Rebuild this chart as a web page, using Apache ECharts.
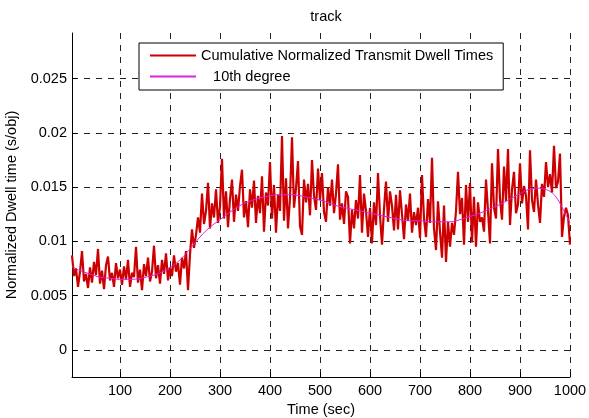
<!DOCTYPE html>
<html>
<head>
<meta charset="utf-8">
<script src="https://cdn.jsdelivr.net/npm/echarts@6/dist/echarts.min.js"></script>
<style>
  html, body { margin: 0; padding: 0; background: #fff; }
  #main { width: 589px; height: 418px; }
</style>
</head>
<body>
<div id="main"></div>
<script>
// sampled every 4 sec, from 4 to 1000
var sampleStep = 4;
var dwell = [
  0.0087, 0.0068, 0.0075, 0.0058, 0.0072, 0.0091, 0.0063, 0.0070, 0.0057, 0.0076,
  0.0062, 0.0081, 0.0069, 0.0093, 0.0061, 0.0073, 0.0056, 0.0078, 0.0086, 0.0064,
  0.0071, 0.0058, 0.0080, 0.0066, 0.0074,
  0.0060, 0.0077, 0.0065, 0.0083, 0.0058, 0.0071, 0.0067, 0.0095, 0.0062, 0.0074,
  0.0055, 0.0079, 0.0068, 0.0085, 0.0063, 0.0072, 0.0096, 0.0066, 0.0078, 0.0061,
  0.0083, 0.0070, 0.0089, 0.0064, 0.0076,
  0.0068, 0.0087, 0.0072, 0.0080, 0.0060, 0.0085, 0.0075, 0.0091, 0.0055, 0.0088,
  0.0111, 0.0094, 0.0106, 0.0122, 0.0108, 0.0144, 0.0116, 0.0128, 0.0154, 0.0112,
  0.0135, 0.0122, 0.0148, 0.0117, 0.0132,
  0.0176, 0.0121, 0.0146, 0.0113, 0.0139, 0.0157, 0.0118, 0.0143, 0.0128, 0.0151,
  0.0166, 0.0122, 0.0137, 0.0113, 0.0148, 0.0131, 0.0156, 0.0117, 0.0142, 0.0126,
  0.0160, 0.0109, 0.0145, 0.0133, 0.0173,
  0.0121, 0.0152, 0.0108, 0.0143, 0.0128, 0.0197, 0.0119, 0.0158, 0.0112, 0.0140,
  0.0196, 0.0131, 0.0149, 0.0174, 0.0114, 0.0106, 0.0157, 0.0136, 0.0153, 0.0124,
  0.0175, 0.0142, 0.0129, 0.0167, 0.0138,
  0.0163, 0.0127, 0.0118, 0.0150, 0.0133, 0.0157, 0.0126, 0.0144, 0.0171, 0.0120,
  0.0135, 0.0116, 0.0146, 0.0141, 0.0098, 0.0129, 0.0112, 0.0138, 0.0121, 0.0161,
  0.0108, 0.0144, 0.0128, 0.0104, 0.0131,
  0.0098, 0.0136, 0.0115, 0.0163, 0.0124, 0.0097, 0.0130, 0.0155, 0.0118, 0.0146,
  0.0133, 0.0110, 0.0143, 0.0111, 0.0147, 0.0125, 0.0102, 0.0134, 0.0119, 0.0144,
  0.0108, 0.0127, 0.0115, 0.0131, 0.0103,
  0.0161, 0.0121, 0.0104, 0.0139, 0.0117, 0.0177, 0.0112, 0.0092, 0.0137, 0.0109,
  0.0085, 0.0133, 0.0081, 0.0118, 0.0095, 0.0117, 0.0106, 0.0128, 0.0164, 0.0125,
  0.0140, 0.0097, 0.0152, 0.0118, 0.0154,
  0.0099, 0.0141, 0.0095, 0.0136, 0.0118, 0.0122, 0.0109, 0.0157, 0.0128, 0.0098,
  0.0172, 0.0131, 0.0121, 0.0185, 0.0139, 0.0120, 0.0169, 0.0137, 0.0185, 0.0115,
  0.0148, 0.0164, 0.0126, 0.0134, 0.0172,
  0.0135, 0.0151, 0.0142, 0.0111, 0.0184, 0.0138, 0.0127, 0.0157, 0.0134, 0.0117,
  0.0153, 0.0141, 0.0173, 0.0150, 0.0162, 0.0145, 0.0188, 0.0149, 0.0155, 0.0181,
  0.0104, 0.0123, 0.0131, 0.0124, 0.0097
];

var fitTime = [4, 20, 40, 60, 80, 100, 120, 140, 160, 180, 200, 220, 240, 260, 280, 300,
  320, 340, 360, 380, 400, 420, 440, 460, 480, 500, 520, 540, 560, 580, 600, 620, 640,
  660, 680, 700, 720, 740, 760, 780, 800, 820, 840, 860, 880, 900, 920, 940, 950, 960,
  970, 980, 990, 1000];
var fitVal = [0.0077, 0.0073, 0.0070, 0.0067, 0.0066, 0.0065, 0.0065, 0.0066, 0.0068,
  0.0071, 0.0076, 0.0083, 0.0093, 0.0104, 0.0113, 0.0120, 0.0127, 0.0133, 0.0137,
  0.0140, 0.0142, 0.0143, 0.0143, 0.0142, 0.0140, 0.0138, 0.0135, 0.0132, 0.0130,
  0.0128, 0.0126, 0.0124, 0.0122, 0.0120, 0.0119, 0.0119, 0.0118, 0.0118, 0.0118,
  0.0120, 0.0123, 0.0126, 0.0130, 0.0134, 0.0139, 0.0144, 0.0148, 0.0149, 0.0148,
  0.0146, 0.0142, 0.0135, 0.0126, 0.0117];

var xTicks = [100, 200, 300, 400, 500, 600, 700, 800, 900, 1000];
var yTicks = [0, 0.005, 0.01, 0.015, 0.02, 0.025];

var dwellData = [];
for (var i = 0; i < dwell.length; i++) {
  dwellData.push([(i + 1) * sampleStep, dwell[i]]);
}
var fitData = [];
for (var j = 0; j < fitTime.length; j++) {
  fitData.push([fitTime[j], fitVal[j]]);
}

var font = 'Liberation Sans, Arial, Helvetica, sans-serif';
var fs = 14.5;
var gridLine = { show: true, lineStyle: { color: '#222', width: 1, type: [6, 6] } };

var myChart = echarts.init(document.getElementById('main'));
var option = {
  backgroundColor: '#fff',
  animation: false,
  title: {
    text: 'track',
    left: 321,
    top: 4,
    textAlign: 'center',
    textStyle: { fontFamily: font, fontSize: fs, fontWeight: 'normal', color: '#000' }
  },
  legend: {
    orient: 'vertical',
    left: 139,
    top: 43,
    padding: [5, 10, 6, 10],
    itemWidth: 46,
    itemHeight: 14,
    itemGap: 6,
    backgroundColor: '#fff',
    borderColor: '#000',
    borderWidth: 1,
    borderRadius: 0,
    itemStyle: { opacity: 0 },
    textStyle: { fontFamily: font, fontSize: fs, color: '#000' },
    data: ['Cumulative Normalized Transmit Dwell Times', '   10th degree']
  },
  grid: { left: 72, right: 19, top: 33, bottom: 41, containLabel: false, outerBoundsMode: 'none' },
  xAxis: {
    type: 'value',
    min: 4,
    max: 1000,
    name: 'Time (sec)',
    nameLocation: 'middle',
    nameGap: 23,
    nameTextStyle: { fontFamily: font, fontSize: fs, color: '#000' },
    axisLine: { show: true, onZero: false, lineStyle: { color: '#000', width: 1 } },
    axisTick: { show: true, inside: true, length: 5, customValues: xTicks, lineStyle: { color: '#000' } },
    axisLabel: {
      customValues: xTicks, margin: 6, fontFamily: font, fontSize: fs, color: '#000',
      formatter: function (v) { return String(v); }
    },
    splitLine: gridLine
  },
  yAxis: {
    type: 'value',
    min: -0.0025,
    max: 0.0292,
    name: 'Normalized Dwell time (s/obj)',
    nameLocation: 'middle',
    nameGap: 48,
    nameTextStyle: { fontFamily: font, fontSize: fs, color: '#000' },
    axisLine: { show: true, lineStyle: { color: '#000', width: 1 } },
    axisTick: { show: true, inside: true, length: 5, customValues: yTicks, lineStyle: { color: '#000' } },
    axisLabel: {
      customValues: yTicks, margin: 5, fontFamily: font, fontSize: fs, color: '#000',
      formatter: function (v) { return String(v); }
    },
    splitLine: gridLine
  },
  series: [
    {
      name: 'Cumulative Normalized Transmit Dwell Times',
      type: 'line',
      data: dwellData,
      symbol: 'none',
      sampling: null,
      lineStyle: { color: '#cc0000', width: 2.2 },
      itemStyle: { color: '#cc0000' },
      z: 2
    },
    {
      name: '   10th degree',
      type: 'line',
      data: fitData,
      symbol: 'none',
      smooth: true,
      lineStyle: { color: '#dd22dd', width: 1 },
      itemStyle: { color: '#dd22dd' },
      z: 3
    }
  ]
};
myChart.setOption(option);
</script>
</body>
</html>
